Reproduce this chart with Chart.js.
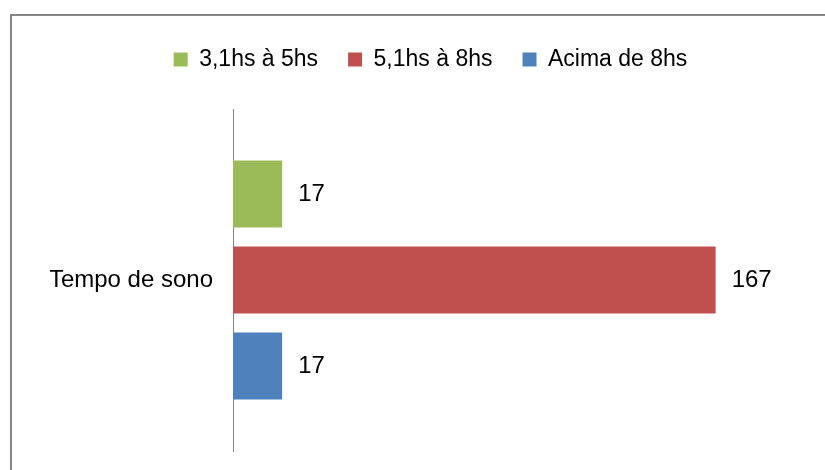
<!DOCTYPE html>
<html>
<head>
<meta charset="utf-8">
<script src="https://cdn.jsdelivr.net/npm/chart.js@4/dist/chart.umd.min.js"></script>
<style>
  html, body { margin: 0; padding: 0; background: #ffffff; }
  #wrap { width: 825px; height: 470px; position: relative; }
</style>
</head>
<body>
<div id="wrap"><canvas id="c" width="825" height="470"></canvas></div>
<script>
const categories = ["Tempo de sono"];
const seriesNames = ["3,1hs à 5hs", "5,1hs à 8hs", "Acima de 8hs"];
const seriesValues = [[17], [167], [17]];
const seriesColors = ["#9BBB59", "#C0504D", "#4F81BD"];
const xMax = 200;

const FONT = "'Liberation Sans', Arial, sans-serif";

const frame = {
  id: 'frame',
  beforeDraw(chart) {
    const ctx = chart.ctx;
    ctx.save();
    ctx.fillStyle = '#ffffff';
    ctx.fillRect(0, 0, chart.width, chart.height);
    ctx.fillStyle = '#878787';
    ctx.fillRect(10, 14, chart.width - 10, 2);
    ctx.fillRect(10, 14, 2, chart.height - 14);
    ctx.restore();
  }
};

const valueLabels = {
  id: 'valueLabels',
  afterDatasetsDraw(chart) {
    const ctx = chart.ctx;
    ctx.save();
    ctx.font = '24px ' + FONT;
    ctx.fillStyle = '#000000';
    ctx.textAlign = 'left';
    ctx.textBaseline = 'middle';
    chart.data.datasets.forEach((ds, i) => {
      const meta = chart.getDatasetMeta(i);
      meta.data.forEach((bar, j) => {
        ctx.fillText(String(ds.data[j]), bar.x + 16, bar.y);
      });
    });
    ctx.restore();
  }
};

new Chart(document.getElementById('c'), {
  type: 'bar',
  data: {
    labels: categories,
    datasets: seriesNames.map((name, i) => ({
      label: name,
      data: seriesValues[i],
      backgroundColor: seriesColors[i],
      borderWidth: 0,
      categoryPercentage: 0.754,
      barPercentage: 0.779
    }))
  },
  options: {
    indexAxis: 'y',
    responsive: false,
    animation: false,
    devicePixelRatio: 1,
    layout: { padding: { left: 50, right: 14, top: 18, bottom: 19 } },
    plugins: {
      legend: {
        display: true,
        position: 'top',
        align: 'center',
        labels: {
          boxWidth: 14,
          boxHeight: 14,
          padding: 30,
          color: '#000000',
          font: { family: FONT, size: 23 }
        }
      },
      tooltip: { enabled: false }
    },
    scales: {
      x: {
        position: 'top',
        min: 0,
        max: xMax,
        display: true,
        grid: { display: false, drawTicks: false },
        border: { display: false },
        ticks: { display: false },
        afterFit(scale) { scale.height = 28; }
      },
      y: {
        grid: { display: false, drawTicks: false },
        border: { display: true, color: '#868686', width: 1 },
        ticks: {
          color: '#000000',
          padding: 20,
          font: { family: FONT, size: 24 }
        },
        afterFit(scale) {
          scale.width = 183;
          scale.paddingTop = 0;
          scale.paddingBottom = 0;
        }
      }
    }
  },
  plugins: [frame, valueLabels]
});
</script>
</body>
</html>
